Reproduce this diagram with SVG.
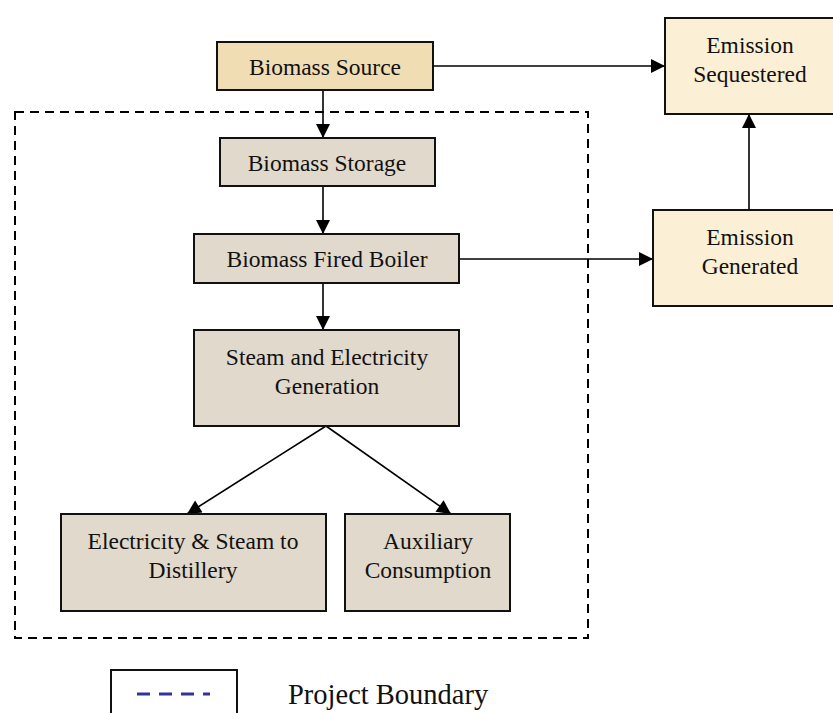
<svg xmlns="http://www.w3.org/2000/svg" width="833" height="713" viewBox="0 0 833 713">
<style>
.box{stroke:#111;stroke-width:2}
.tan{fill:#f1ddb4}
.pale{fill:#fbf0d6}
.grey{fill:#e1d9cc}
.t{font-family:"Liberation Serif","Times New Roman",serif;font-size:23.5px;fill:#111;text-anchor:middle}
.c{stroke:#000;stroke-width:1.6;fill:none;marker-end:url(#ah)}
</style>
<defs>
<marker id="ah" viewBox="0 0 10 10" refX="10" refY="5" markerWidth="15" markerHeight="14" markerUnits="userSpaceOnUse" orient="auto">
<path d="M0,0 L10,5 L0,10 z" fill="#000"/>
</marker>
</defs>
<rect width="833" height="713" fill="#fff"/>
<g id="boundary">
<rect x="15" y="112" width="573" height="526" fill="none" stroke="#000" stroke-width="2" stroke-dasharray="9,6"/>
</g>
<g id="connectors">
<line class="c" x1="433" y1="66" x2="665" y2="66"/>
<line class="c" x1="323" y1="90" x2="323" y2="138"/>
<line class="c" x1="323" y1="186" x2="323" y2="234"/>
<line class="c" x1="459" y1="259" x2="653" y2="259"/>
<line class="c" x1="749" y1="210" x2="749" y2="114"/>
<line class="c" x1="323" y1="283" x2="323" y2="330"/>
<line class="c" x1="326" y1="426" x2="187" y2="514"/>
<line class="c" x1="326" y1="426" x2="451" y2="514"/>
</g>
<g id="biomass-source">
<rect class="box tan" x="217" y="42" width="216" height="48"/>
<text class="t" x="325" y="75">Biomass Source</text>
</g>
<g id="emission-sequestered">
<rect class="box pale" x="665" y="18" width="170" height="96"/>
<text class="t" x="750" y="53">Emission</text>
<text class="t" x="750" y="82">Sequestered</text>
</g>
<g id="biomass-storage">
<rect class="box grey" x="220" y="138" width="215" height="48"/>
<text class="t" x="327" y="171">Biomass Storage</text>
</g>
<g id="biomass-fired-boiler">
<rect class="box grey" x="194" y="234" width="265" height="49"/>
<text class="t" x="327" y="267">Biomass Fired Boiler</text>
</g>
<g id="emission-generated">
<rect class="box pale" x="653" y="210" width="182" height="96"/>
<text class="t" x="750" y="245">Emission</text>
<text class="t" x="750" y="274">Generated</text>
</g>
<g id="steam-electricity">
<rect class="box grey" x="194" y="330" width="265" height="96"/>
<text class="t" x="327" y="365">Steam and Electricity</text>
<text class="t" x="327" y="394">Generation</text>
</g>
<g id="electricity-steam-distillery">
<rect class="box grey" x="61" y="514" width="265" height="97"/>
<text class="t" x="193" y="549">Electricity &amp; Steam to</text>
<text class="t" x="193" y="578">Distillery</text>
</g>
<g id="auxiliary-consumption">
<rect class="box grey" x="345" y="514" width="165" height="97"/>
<text class="t" x="428" y="549">Auxiliary</text>
<text class="t" x="428" y="578">Consumption</text>
</g>
<g id="legend">
<rect x="111" y="670" width="126" height="50" fill="#fff" stroke="#111" stroke-width="2"/>
<line x1="137" y1="694" x2="210" y2="694" stroke="#333399" stroke-width="3" stroke-dasharray="13,9"/>
<text x="288" y="704" font-family="Liberation Serif,'Times New Roman',serif" font-size="28.5" fill="#111">Project Boundary</text>
</g>
</svg>
